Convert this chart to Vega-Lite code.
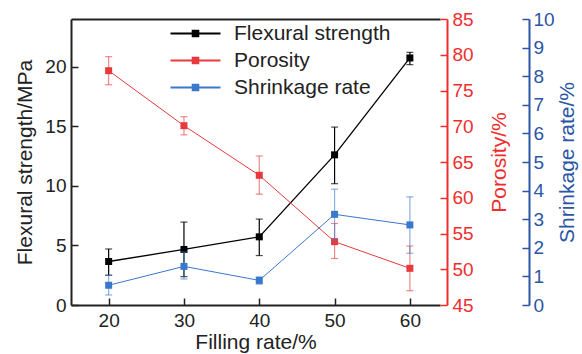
{
  "$schema": "https://vega.github.io/schema/vega-lite/v6.json",
  "autosize": "none",
  "width": 369,
  "height": 286,
  "padding": {"left": 71, "top": 19, "right": 142, "bottom": 49},
  "background": "white",
  "config": {
    "view": {"stroke": null},
    "font": "Liberation Sans",
    "axis": {"grid": false, "labelFont": "Liberation Sans", "titleFont": "Liberation Sans", "labelFontSize": 19, "titleFontSize": 21, "titleFontWeight": "normal", "domainWidth": 2, "tickWidth": 1.5, "tickSize": -7}
  },
  "data": {"values": [
    {"rate": 20, "series": "Flexural strength", "value": 3.65, "lo": 2.5, "hi": 4.7},
    {"rate": 30, "series": "Flexural strength", "value": 4.66, "lo": 2.38, "hi": 6.96},
    {"rate": 40, "series": "Flexural strength", "value": 5.72, "lo": 4.15, "hi": 7.21},
    {"rate": 50, "series": "Flexural strength", "value": 12.6, "lo": 10.18, "hi": 14.93},
    {"rate": 60, "series": "Flexural strength", "value": 20.73, "lo": 20.17, "hi": 21.2},
    {"rate": 20, "series": "Porosity", "value": 77.77, "lo": 75.8, "hi": 79.73},
    {"rate": 30, "series": "Porosity", "value": 70.08, "lo": 68.8, "hi": 71.34},
    {"rate": 40, "series": "Porosity", "value": 63.14, "lo": 60.5, "hi": 65.84},
    {"rate": 50, "series": "Porosity", "value": 53.86, "lo": 51.5, "hi": 56.4},
    {"rate": 60, "series": "Porosity", "value": 50.13, "lo": 47.0, "hi": 53.25},
    {"rate": 20, "series": "Shrinkage rate", "value": 0.69, "lo": 0.35, "hi": 1.04},
    {"rate": 30, "series": "Shrinkage rate", "value": 1.35, "lo": 0.91, "hi": 1.85},
    {"rate": 40, "series": "Shrinkage rate", "value": 0.86, "lo": 0.73, "hi": 0.98},
    {"rate": 50, "series": "Shrinkage rate", "value": 3.17, "lo": 2.27, "hi": 4.05},
    {"rate": 60, "series": "Shrinkage rate", "value": 2.8, "lo": 1.81, "hi": 3.78}
  ]},
  "resolve": {"scale": {"y": "independent"}, "axis": {"y": "independent", "x": "independent"}},
  "layer": [
    {
      "transform": [{"filter": "datum.series === 'Flexural strength'"}],
      "encoding": {
        "x": {"field": "rate", "type": "quantitative", "scale": {"domain": [15, 64], "nice": false, "zero": false},
          "axis": {"orient": "bottom", "values": [20, 30, 40, 50, 60], "title": "Filling rate/%", "domainColor": "#222", "tickColor": "#222", "labelColor": "#222", "titleColor": "#222", "labelPadding": 13, "titlePadding": 1}},
        "color": {"field": "series", "type": "nominal",
          "scale": {"domain": ["Flexural strength", "Porosity", "Shrinkage rate"], "range": ["#000000", "#e8393c", "#3a78cc"]},
          "legend": {"orient": "none", "legendX": 99, "legendY": 4, "title": null, "labelFont": "Liberation Sans", "labelFontSize": 21, "labelColor": "#222",
            "symbolType": "M-2.5,-0.1 L2.5,-0.1 L2.5,0.1 L-2.5,0.1 Z M-0.38,-0.38 L0.38,-0.38 L0.38,0.38 L-0.38,0.38 Z",
            "symbolSize": 400, "symbolStrokeWidth": 0, "symbolOpacity": 1, "symbolOffset": 15, "labelOffset": 28, "rowPadding": 5,
            "encode": {"symbols": {"update": {"fill": {"scale": "color", "field": "value"}, "opacity": {"value": 1}, "fillOpacity": {"value": 1}, "strokeWidth": {"value": 0}}}}}}
      },
      "layer": [
        {"mark": {"type": "rule", "strokeWidth": 1.2}, "encoding": {"y": {"field": "lo", "type": "quantitative", "scale": {"domain": [0, 24], "nice": false},
          "axis": {"orient": "left", "values": [0, 5, 10, 15, 20], "title": "Flexural strength/MPa", "domainColor": "#222", "tickColor": "#222", "labelColor": "#222", "titleColor": "#222", "labelPadding": 12, "titlePadding": 9}}, "y2": {"field": "hi"}}},
        {"mark": {"type": "tick", "orient": "horizontal", "size": 7, "thickness": 1.2}, "encoding": {"y": {"field": "lo", "type": "quantitative", "scale": {"domain": [0, 24], "nice": false},
          "axis": {"orient": "left", "values": [0, 5, 10, 15, 20], "title": "Flexural strength/MPa", "domainColor": "#222", "tickColor": "#222", "labelColor": "#222", "titleColor": "#222", "labelPadding": 12, "titlePadding": 9}}}},
        {"mark": {"type": "tick", "orient": "horizontal", "size": 7, "thickness": 1.2}, "encoding": {"y": {"field": "hi", "type": "quantitative", "scale": {"domain": [0, 24], "nice": false},
          "axis": {"orient": "left", "values": [0, 5, 10, 15, 20], "title": "Flexural strength/MPa", "domainColor": "#222", "tickColor": "#222", "labelColor": "#222", "titleColor": "#222", "labelPadding": 12, "titlePadding": 9}}}},
        {"mark": {"type": "line", "strokeWidth": 1.3}, "encoding": {"y": {"field": "value", "type": "quantitative", "scale": {"domain": [0, 24], "nice": false},
          "axis": {"orient": "left", "values": [0, 5, 10, 15, 20], "title": "Flexural strength/MPa", "domainColor": "#222", "tickColor": "#222", "labelColor": "#222", "titleColor": "#222", "labelPadding": 12, "titlePadding": 9}}}},
        {"mark": {"type": "point", "shape": "square", "filled": true, "size": 49, "opacity": 1}, "encoding": {"y": {"field": "value", "type": "quantitative", "scale": {"domain": [0, 24], "nice": false},
          "axis": {"orient": "left", "values": [0, 5, 10, 15, 20], "title": "Flexural strength/MPa", "domainColor": "#222", "tickColor": "#222", "labelColor": "#222", "titleColor": "#222", "labelPadding": 12, "titlePadding": 9}}}}
      ]
    },
    {
      "transform": [{"filter": "datum.series === 'Porosity'"}],
      "encoding": {
        "x": {"field": "rate", "type": "quantitative", "scale": {"domain": [15, 64], "nice": false, "zero": false},
          "axis": {"orient": "top", "labels": false, "ticks": false, "title": null, "domainColor": "#222"}},
        "color": {"field": "series", "type": "nominal"}
      },
      "layer": [
        {"mark": {"type": "rule", "strokeWidth": 1.2, "opacity": 0.6}, "encoding": {"y": {"field": "lo", "type": "quantitative", "scale": {"domain": [45, 85], "nice": false, "zero": false},
          "axis": {"orient": "right", "offset": 7, "values": [45, 50, 55, 60, 65, 70, 75, 80, 85], "title": "Porosity/%", "titleAngle": 270, "titleBaseline": "top", "domainColor": "#ee2e2e", "tickColor": "#ee2e2e", "labelColor": "#ee2e2e", "titleColor": "#ee2e2e", "labelPadding": 12, "titlePadding": 15}}, "y2": {"field": "hi"}}},
        {"mark": {"type": "tick", "orient": "horizontal", "size": 7, "thickness": 1.2, "opacity": 0.6}, "encoding": {"y": {"field": "lo", "type": "quantitative", "scale": {"domain": [45, 85], "nice": false, "zero": false},
          "axis": {"orient": "right", "offset": 7, "values": [45, 50, 55, 60, 65, 70, 75, 80, 85], "title": "Porosity/%", "titleAngle": 270, "titleBaseline": "top", "domainColor": "#ee2e2e", "tickColor": "#ee2e2e", "labelColor": "#ee2e2e", "titleColor": "#ee2e2e", "labelPadding": 12, "titlePadding": 15}}}},
        {"mark": {"type": "tick", "orient": "horizontal", "size": 7, "thickness": 1.2, "opacity": 0.6}, "encoding": {"y": {"field": "hi", "type": "quantitative", "scale": {"domain": [45, 85], "nice": false, "zero": false},
          "axis": {"orient": "right", "offset": 7, "values": [45, 50, 55, 60, 65, 70, 75, 80, 85], "title": "Porosity/%", "titleAngle": 270, "titleBaseline": "top", "domainColor": "#ee2e2e", "tickColor": "#ee2e2e", "labelColor": "#ee2e2e", "titleColor": "#ee2e2e", "labelPadding": 12, "titlePadding": 15}}}},
        {"mark": {"type": "line", "strokeWidth": 1}, "encoding": {"y": {"field": "value", "type": "quantitative", "scale": {"domain": [45, 85], "nice": false, "zero": false},
          "axis": {"orient": "right", "offset": 7, "values": [45, 50, 55, 60, 65, 70, 75, 80, 85], "title": "Porosity/%", "titleAngle": 270, "titleBaseline": "top", "domainColor": "#ee2e2e", "tickColor": "#ee2e2e", "labelColor": "#ee2e2e", "titleColor": "#ee2e2e", "labelPadding": 12, "titlePadding": 15}}}},
        {"mark": {"type": "point", "shape": "square", "filled": true, "size": 49, "opacity": 1}, "encoding": {"y": {"field": "value", "type": "quantitative", "scale": {"domain": [45, 85], "nice": false, "zero": false},
          "axis": {"orient": "right", "offset": 7, "values": [45, 50, 55, 60, 65, 70, 75, 80, 85], "title": "Porosity/%", "titleAngle": 270, "titleBaseline": "top", "domainColor": "#ee2e2e", "tickColor": "#ee2e2e", "labelColor": "#ee2e2e", "titleColor": "#ee2e2e", "labelPadding": 12, "titlePadding": 15}}}}
      ]
    },
    {
      "transform": [{"filter": "datum.series === 'Shrinkage rate'"}],
      "encoding": {
        "x": {"field": "rate", "type": "quantitative", "scale": {"domain": [15, 64], "nice": false, "zero": false}, "axis": null},
        "color": {"field": "series", "type": "nominal"}
      },
      "layer": [
        {"mark": {"type": "rule", "strokeWidth": 1.2, "opacity": 0.6}, "encoding": {"y": {"field": "lo", "type": "quantitative", "scale": {"domain": [0, 10], "nice": false},
          "axis": {"orient": "right", "offset": 89, "values": [0, 1, 2, 3, 4, 5, 6, 7, 8, 9, 10], "title": "Shrinkage rate/%", "titleAngle": 270, "titleBaseline": "top", "domainColor": "#2b55a5", "tickColor": "#2b55a5", "labelColor": "#2b55a5", "titleColor": "#2b55a5", "labelPadding": 11, "titlePadding": 2}}, "y2": {"field": "hi"}}},
        {"mark": {"type": "tick", "orient": "horizontal", "size": 7, "thickness": 1.2, "opacity": 0.6}, "encoding": {"y": {"field": "lo", "type": "quantitative", "scale": {"domain": [0, 10], "nice": false},
          "axis": {"orient": "right", "offset": 89, "values": [0, 1, 2, 3, 4, 5, 6, 7, 8, 9, 10], "title": "Shrinkage rate/%", "titleAngle": 270, "titleBaseline": "top", "domainColor": "#2b55a5", "tickColor": "#2b55a5", "labelColor": "#2b55a5", "titleColor": "#2b55a5", "labelPadding": 11, "titlePadding": 2}}}},
        {"mark": {"type": "tick", "orient": "horizontal", "size": 7, "thickness": 1.2, "opacity": 0.6}, "encoding": {"y": {"field": "hi", "type": "quantitative", "scale": {"domain": [0, 10], "nice": false},
          "axis": {"orient": "right", "offset": 89, "values": [0, 1, 2, 3, 4, 5, 6, 7, 8, 9, 10], "title": "Shrinkage rate/%", "titleAngle": 270, "titleBaseline": "top", "domainColor": "#2b55a5", "tickColor": "#2b55a5", "labelColor": "#2b55a5", "titleColor": "#2b55a5", "labelPadding": 11, "titlePadding": 2}}}},
        {"mark": {"type": "line", "strokeWidth": 1}, "encoding": {"y": {"field": "value", "type": "quantitative", "scale": {"domain": [0, 10], "nice": false},
          "axis": {"orient": "right", "offset": 89, "values": [0, 1, 2, 3, 4, 5, 6, 7, 8, 9, 10], "title": "Shrinkage rate/%", "titleAngle": 270, "titleBaseline": "top", "domainColor": "#2b55a5", "tickColor": "#2b55a5", "labelColor": "#2b55a5", "titleColor": "#2b55a5", "labelPadding": 11, "titlePadding": 2}}}},
        {"mark": {"type": "point", "shape": "square", "filled": true, "size": 49, "opacity": 1}, "encoding": {"y": {"field": "value", "type": "quantitative", "scale": {"domain": [0, 10], "nice": false},
          "axis": {"orient": "right", "offset": 89, "values": [0, 1, 2, 3, 4, 5, 6, 7, 8, 9, 10], "title": "Shrinkage rate/%", "titleAngle": 270, "titleBaseline": "top", "domainColor": "#2b55a5", "tickColor": "#2b55a5", "labelColor": "#2b55a5", "titleColor": "#2b55a5", "labelPadding": 11, "titlePadding": 2}}}}
      ]
    }
  ]
}
